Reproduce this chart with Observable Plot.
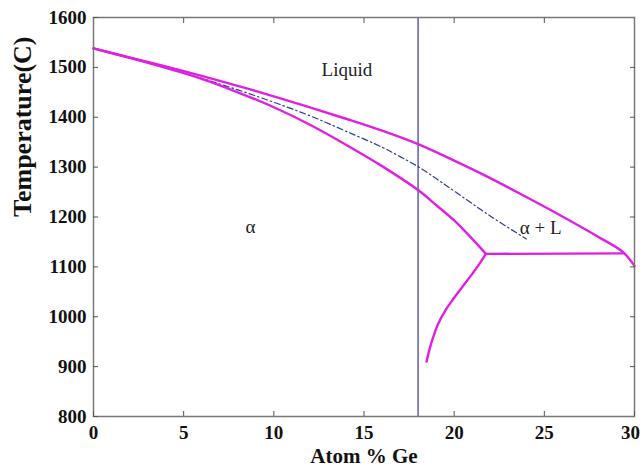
<!DOCTYPE html>
<html>
<head>
<meta charset="utf-8">
<script src="https://cdn.jsdelivr.net/npm/d3@7"></script>
<script src="https://cdn.jsdelivr.net/npm/@observablehq/plot@0.6"></script>
<style>
  html, body { margin: 0; padding: 0; background: #fff; }
  svg { display: block; }
</style>
</head>
<body>
<div id="chart"></div>
<script>
// Liquidus (upper magenta curve)
const liquidusX = [0, 2, 4, 6, 8, 10, 12, 14, 16, 18, 20, 22, 24, 26, 28, 29.35, 30];
const liquidusT = [1538, 1520, 1502, 1483, 1463, 1442, 1420, 1397, 1373, 1346, 1313, 1278, 1240, 1201, 1160, 1130, 1102];
// Solidus (lower magenta curve)
const solidusX = [0, 2, 4, 6, 8, 10, 12, 14, 16, 18, 19, 20, 21, 21.76];
const solidusT = [1538, 1519, 1499, 1477, 1450, 1420, 1385, 1345, 1302, 1254, 1224, 1193, 1156, 1126];
// Three-phase horizontal
const eutecticX = [21.76, 29.35];
const eutecticT = [1126, 1127];
// Lower branch (solvus)
const solvusX = [21.76, 21.4, 21, 20.5, 20, 19.5, 19.1, 18.8, 18.6, 18.47];
const solvusT = [1126, 1106, 1086, 1062, 1038, 1012, 985, 955, 930, 910];
// Dash-dot blue curve
const dashX = [0, 2, 4, 6, 8, 10, 12, 14, 16, 17, 18, 19, 20, 22, 24];
const dashT = [1538, 1519, 1499, 1478, 1455, 1430, 1403, 1372, 1340, 1321, 1301, 1277, 1252, 1202, 1156];
// Vertical composition line
const compositionX = [18];
// Region labels
const labelText = ["Liquid", "α", "α + L"];
const labelX = [14.05, 8.7, 24.8];
const labelT = [1494, 1180, 1178];
// Ticks
const xTicks = [0, 5, 10, 15, 20, 25, 30];
const yTicks = [800, 900, 1000, 1100, 1200, 1300, 1400, 1500, 1600];

const zip = (xs, ys) => xs.map((x, i) => ({x, t: ys[i]}));
const liquidus = zip(liquidusX, liquidusT);
const solidus = zip(solidusX, solidusT);
const eutectic = zip(eutecticX, eutecticT);
const solvus = zip(solvusX, solvusT);
const dash = zip(dashX, dashT);
const labels = labelText.map((s, i) => ({s, x: labelX[i], t: labelT[i]}));

const magenta = "#e020e0";
const serif = "'Liberation Serif', 'DejaVu Serif', serif";

const chart = Plot.plot({
  width: 642,
  height: 475,
  marginLeft: 93,
  marginRight: 8,
  marginTop: 17,
  marginBottom: 59,
  style: {fontFamily: serif, background: "#fff"},
  x: {domain: [0, 30]},
  y: {domain: [800, 1600]},
  marks: [
    Plot.ruleX(compositionX, {stroke: "#6868b0", strokeWidth: 1.6}),
    Plot.line(dash, {x: "x", y: "t", stroke: "#2a3a9e", strokeWidth: 1.2, strokeDasharray: "6,3,1.5,3", curve: "catmull-rom"}),
    Plot.line(liquidus, {x: "x", y: "t", stroke: magenta, strokeWidth: 2.4, curve: "catmull-rom"}),
    Plot.line(solidus, {x: "x", y: "t", stroke: magenta, strokeWidth: 2.4, curve: "catmull-rom"}),
    Plot.line(eutectic, {x: "x", y: "t", stroke: magenta, strokeWidth: 2.4}),
    Plot.line(solvus, {x: "x", y: "t", stroke: magenta, strokeWidth: 2.4, curve: "catmull-rom"}),
    Plot.text(labels, {x: "x", y: "t", text: "s", fontSize: 19, fill: "#222", fontFamily: serif}),
    Plot.frame({stroke: "#777", strokeWidth: 1.5}),
    Plot.axisX({ticks: xTicks, tickSize: -5, tickPadding: 14, label: null, fontSize: 19, tickFormat: d => String(d), stroke: "#555", fill: "#111"}),
    Plot.axisX({anchor: "top", ticks: xTicks.slice(1, -1), tickSize: -5, label: null, tickFormat: () => "", stroke: "#555"}),
    Plot.axisY({ticks: yTicks, tickSize: -5, tickPadding: 12, label: null, fontSize: 19, tickFormat: d => String(d), stroke: "#555", fill: "#111"}),
    Plot.axisY({anchor: "right", ticks: yTicks.slice(1, -1), tickSize: -5, label: null, tickFormat: () => "", stroke: "#555"}),
    Plot.text(["Temperature(C)"], {frameAnchor: "left", dx: -71, rotate: -90, fontSize: 26, fontWeight: "bold", fill: "#111", fontFamily: serif}),
    Plot.text(["Atom % Ge"], {frameAnchor: "bottom", dy: 46, fontSize: 21, fontWeight: "bold", fill: "#111", fontFamily: serif})
  ]
});
// Make axis tick labels bold serif like the reference
const tickStrings = new Set([...xTicks, ...yTicks].map(String));
chart.querySelectorAll("text").forEach(t => {
  const s = t.textContent.trim();
  if (tickStrings.has(s)) {
    t.style.fontFamily = serif;
    t.style.fontWeight = "bold";
    t.style.fontSize = "19px";
    t.style.fontVariant = "normal";
    if (s === "30") {
      t.setAttribute("transform", ((t.getAttribute("transform") || "") + " translate(-4,0)").trim());
    }
  }
});
document.getElementById("chart").appendChild(chart);
</script>
</body>
</html>
